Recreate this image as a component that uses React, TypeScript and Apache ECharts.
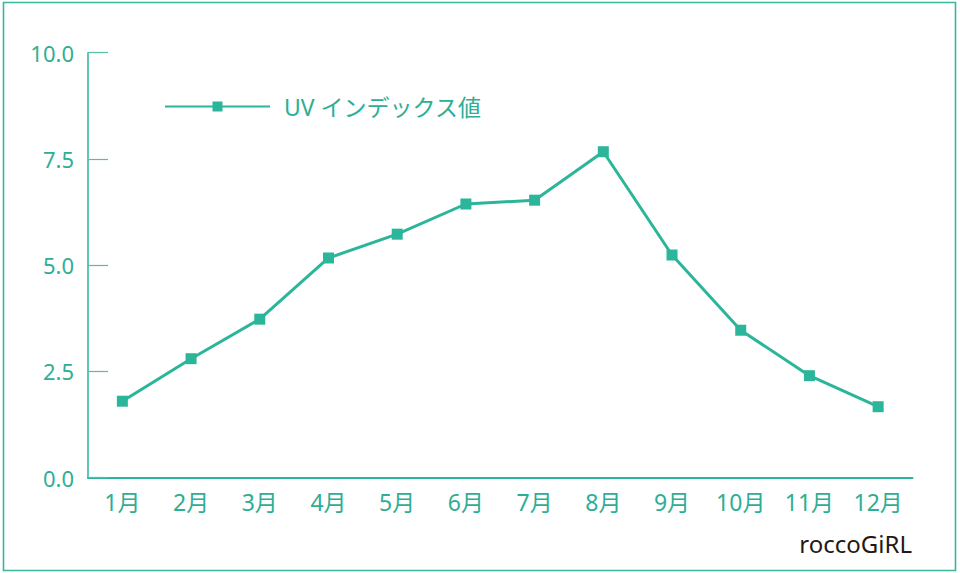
import React, { useEffect, useRef } from "react";
import * as echarts from "echarts";

const months = ["1月", "2月", "3月", "4月", "5月", "6月", "7月", "8月", "9月", "10月", "11月", "12月"];
const uvValues = [1.8, 2.8, 3.73, 5.17, 5.73, 6.44, 6.53, 7.67, 5.24, 3.47, 2.4, 1.67];
const seriesName = "UV インデックス値";
const watermark = "roccoGiRL";

const TEAL = "#2bb59a";
const TEXT = "#2eae94";
const FONT = "'Noto Sans', 'Noto Sans CJK JP', sans-serif";

export default function App() {
  const ref = useRef<HTMLDivElement>(null);
  useEffect(() => {
    if (!ref.current) return;
    const chart = echarts.init(ref.current, null, { renderer: "svg" });
    chart.setOption({
      animation: false,
      backgroundColor: "#ffffff",
      textStyle: { fontFamily: FONT },
      grid: { left: 88, right: 47.5, top: 52.7, bottom: 95.3, containLabel: false },
      legend: {
        left: 159,
        top: 90,
        itemWidth: 105,
        itemHeight: 12.5,
        textStyle: { fontSize: 23, color: TEXT, fontFamily: FONT, padding: [0, 0, 0, 9] },
        data: [seriesName],
      },
      xAxis: {
        type: "category",
        data: months,
        boundaryGap: true,
        axisLine: { lineStyle: { color: TEAL, width: 2 } },
        axisTick: { inside: true, length: 10, lineStyle: { color: "#48b9a0", width: 1.2 } },
        axisLabel: { color: TEXT, fontSize: 23, margin: 13, fontFamily: FONT },
        splitLine: { show: false },
      },
      yAxis: {
        type: "value",
        min: 0,
        max: 10,
        interval: 2.5,
        axisLine: { show: true, lineStyle: { color: TEAL, width: 1.5 } },
        axisTick: { show: true, inside: true, length: 20, lineStyle: { color: "#55bea6", width: 1.2 } },
        axisLabel: {
          color: TEXT,
          fontSize: 22,
          margin: 14,
          fontFamily: FONT,
          formatter: (v: number) => v.toFixed(1),
        },
        splitLine: { show: false },
      },
      graphic: [
        {
          type: "rect",
          shape: { x: 3.5, y: 2.5, width: 952, height: 568 },
          style: { fill: "none", stroke: "#37b89e", lineWidth: 1.6 },
          silent: true,
        },
        {
          type: "text",
          right: 48,
          top: 531,
          style: { text: watermark, fontSize: 24, fill: "#231815", fontFamily: FONT },
          silent: true,
        },
      ],
      series: [
        {
          name: seriesName,
          type: "line",
          data: uvValues,
          symbol: "rect",
          symbolSize: 11,
          lineStyle: { color: TEAL, width: 3 },
          itemStyle: { color: TEAL },
        },
      ],
    });
    return () => chart.dispose();
  }, []);
  return (
    <div
      ref={ref}
      style={{ position: "absolute", left: 0, top: 0, width: 960, height: 573 }}
    />
  );
}
